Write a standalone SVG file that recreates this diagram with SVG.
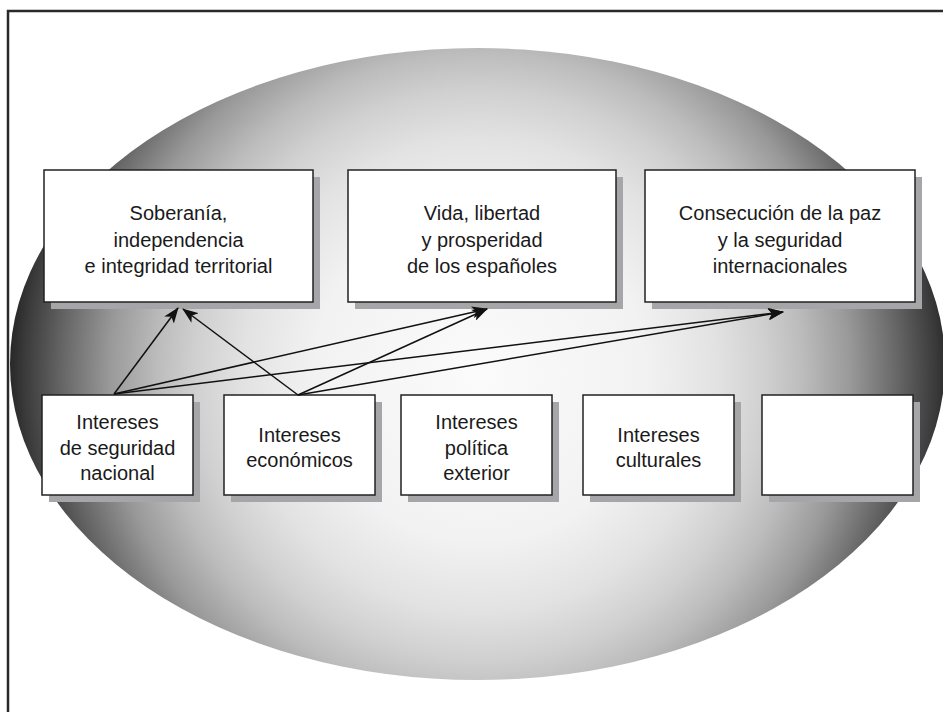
<svg xmlns="http://www.w3.org/2000/svg" width="943" height="712" viewBox="0 0 943 712">
<defs>
<radialGradient id="g" gradientUnits="userSpaceOnUse" cx="480" cy="375" r="475">
<stop offset="0" stop-color="#fbfbfb"/>
<stop offset="0.35" stop-color="#f2f2f2"/>
<stop offset="0.5" stop-color="#e2e2e2"/>
<stop offset="0.6" stop-color="#d0d0d0"/>
<stop offset="0.68" stop-color="#bcbcbc"/>
<stop offset="0.78" stop-color="#999999"/>
<stop offset="0.88" stop-color="#666666"/>
<stop offset="0.96" stop-color="#3a3a3a"/>
<stop offset="1" stop-color="#222222"/>
</radialGradient>
<marker id="ah" viewBox="0 0 16 12" refX="15" refY="6" markerWidth="16" markerHeight="12" markerUnits="userSpaceOnUse" orient="auto">
<path d="M0,0 L16,6 L0,12 L4,6 Z" fill="#111"/>
</marker>
<style>
.box{fill:#fff;stroke:#222;stroke-width:1.5}
.sh{fill:#a6a6a8}
.t{font-family:"Liberation Sans",Arial,sans-serif;font-size:20px;fill:#1a1a1a;text-anchor:middle}
.c{stroke:#111;stroke-width:1.5;fill:none;marker-end:url(#ah)}
</style>
</defs>
<rect width="943" height="712" fill="#fff"/>
<path d="M8,712 L8,11 L943,11" fill="none" stroke="#2a2a2a" stroke-width="2.5"/>
<ellipse cx="477.5" cy="364" rx="467.5" ry="316" fill="url(#g)"/>

<g id="n1">
<rect class="sh" x="51" y="177" width="269" height="132"/>
<rect class="box" x="44" y="170" width="269" height="132"/>
<text class="t"><tspan x="178.5" y="220">Soberanía,</tspan><tspan x="178.5" y="246.5">independencia</tspan><tspan x="178.5" y="273">e integridad territorial</tspan></text>
</g>
<g id="n2">
<rect class="sh" x="355" y="177" width="268" height="132"/>
<rect class="box" x="348" y="170" width="268" height="132"/>
<text class="t"><tspan x="482" y="220">Vida, libertad</tspan><tspan x="482" y="246.5">y prosperidad</tspan><tspan x="482" y="273">de los españoles</tspan></text>
</g>
<g id="n3">
<rect class="sh" x="652" y="177" width="270" height="132"/>
<rect class="box" x="645" y="170" width="270" height="132"/>
<text class="t"><tspan x="780" y="220">Consecución de la paz</tspan><tspan x="780" y="246.5">y la seguridad</tspan><tspan x="780" y="273">internacionales</tspan></text>
</g>

<g id="n4">
<rect class="sh" x="49" y="402" width="151" height="100"/>
<rect class="box" x="42" y="395" width="151" height="100"/>
<text class="t"><tspan x="117.5" y="429">Intereses</tspan><tspan x="117.5" y="455">de seguridad</tspan><tspan x="117.5" y="480">nacional</tspan></text>
</g>
<g id="n5">
<rect class="sh" x="231" y="402" width="151" height="100"/>
<rect class="box" x="224" y="395" width="151" height="100"/>
<text class="t"><tspan x="299.5" y="442">Intereses</tspan><tspan x="299.5" y="467">económicos</tspan></text>
</g>
<g id="n6">
<rect class="sh" x="408" y="402" width="151" height="100"/>
<rect class="box" x="401" y="395" width="151" height="100"/>
<text class="t"><tspan x="476.5" y="429">Intereses</tspan><tspan x="476.5" y="455">política</tspan><tspan x="476.5" y="480">exterior</tspan></text>
</g>
<g id="n7">
<rect class="sh" x="590" y="402" width="151" height="100"/>
<rect class="box" x="583" y="395" width="151" height="100"/>
<text class="t"><tspan x="658.5" y="442">Intereses</tspan><tspan x="658.5" y="467">culturales</tspan></text>
</g>
<g id="n8">
<rect class="sh" x="769" y="402" width="151" height="100"/>
<rect class="box" x="762" y="395" width="151" height="100"/>
</g>

<g id="connectors">
<line class="c" x1="114" y1="394" x2="178" y2="308"/>
<line class="c" x1="298" y1="395" x2="183" y2="309"/>
<line class="c" x1="114" y1="394" x2="487" y2="309"/>
<line class="c" x1="298" y1="395" x2="487" y2="309"/>
<line class="c" x1="114" y1="394" x2="783" y2="312"/>
<line class="c" x1="298" y1="395" x2="783" y2="312"/>
</g>
</svg>
